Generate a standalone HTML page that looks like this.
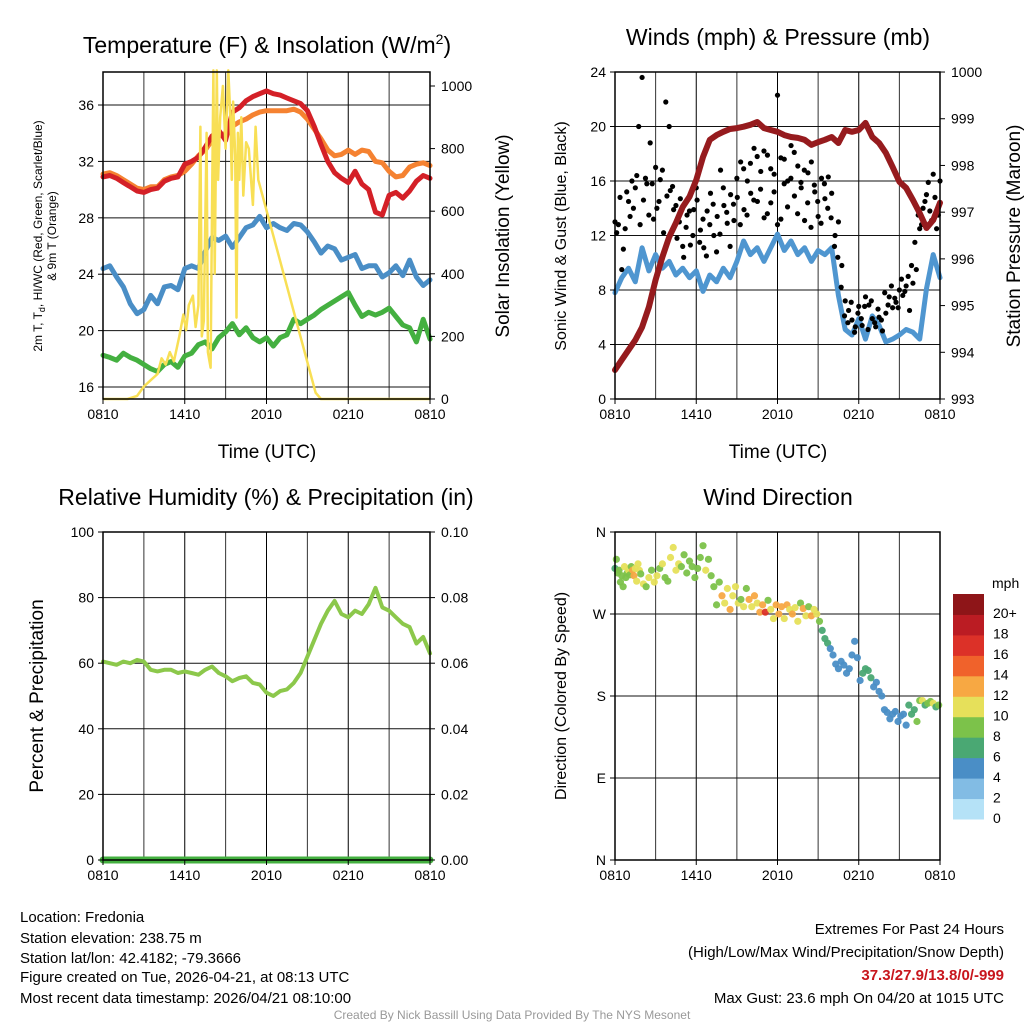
<!DOCTYPE html>
<html><head><meta charset="utf-8"><style>
html,body{margin:0;padding:0;background:#fff;}
svg{display:block;font-family:"Liberation Sans",sans-serif;}
</style></head><body>
<svg id="chart" width="1024" height="1024" viewBox="0 0 1024 1024" xmlns="http://www.w3.org/2000/svg">
<rect x="0" y="0" width="1024" height="1024" fill="#fff"/>
<g id="layer-grid"></g>
<g id="layer-marks"></g>
<g id="layer-frame"></g>
<g id="layer-text" fill="#000">
<text x="267" y="53" font-size="23" text-anchor="middle">Temperature (F) &amp; Insolation (W/m<tspan font-size="14" dy="-9">2</tspan><tspan dy="9">)</tspan></text>
<text x="778" y="45" font-size="23" text-anchor="middle">Winds (mph) &amp; Pressure (mb)</text>
<text x="266" y="505" font-size="23" text-anchor="middle">Relative Humidity (%) &amp; Precipitation (in)</text>
<text x="778" y="505" font-size="23" text-anchor="middle">Wind Direction</text>
<text x="267" y="458" font-size="19" text-anchor="middle">Time (UTC)</text>
<text x="778" y="458" font-size="19" text-anchor="middle">Time (UTC)</text>
<text transform="translate(42,236) rotate(-90)" font-size="12" text-anchor="middle">2m T, T<tspan font-size="9" dy="3">d</tspan><tspan dy="-3">, HI/WC (Red, Green, Scarlet/Blue)</tspan></text>
<text transform="translate(56,236) rotate(-90)" font-size="12" text-anchor="middle">&amp; 9m T (Orange)</text>
<text transform="translate(509,236) rotate(-90)" font-size="19" text-anchor="middle">Solar Insolation (Yellow)</text>
<text transform="translate(566,236) rotate(-90)" font-size="16" text-anchor="middle">Sonic Wind &amp; Gust (Blue, Black)</text>
<text transform="translate(1020,236) rotate(-90)" font-size="19" text-anchor="middle">Station Pressure (Maroon)</text>
<text transform="translate(43,696) rotate(-90)" font-size="19" text-anchor="middle">Percent &amp; Precipitation</text>
<text transform="translate(566,696) rotate(-90)" font-size="16" text-anchor="middle">Direction (Colored By Speed)</text>
<text x="992" y="588" font-size="14">mph</text>
<g font-size="15">
<text x="20" y="922">Location: Fredonia</text>
<text x="20" y="943">Station elevation: 238.75 m</text>
<text x="20" y="963">Station lat/lon: 42.4182; -79.3666</text>
<text x="20" y="982">Figure created on Tue, 2026-04-21, at 08:13 UTC</text>
<text x="20" y="1003">Most recent data timestamp: 2026/04/21 08:10:00</text>
</g>
<g font-size="15" text-anchor="end">
<text x="1004" y="934">Extremes For Past 24 Hours</text>
<text x="1004" y="957">(High/Low/Max Wind/Precipitation/Snow Depth)</text>
<text x="1004" y="980" fill="#c8161d" font-weight="bold">37.3/27.9/13.8/0/-999</text>
<text x="1004" y="1003">Max Gust: 23.6 mph On 04/20 at 1015 UTC</text>
</g>
<text x="512" y="1019" font-size="12" fill="#999" text-anchor="middle">Created By Nick Bassill Using Data Provided By The NYS Mesonet</text>
</g>
</svg>
<script>
// ---- data (half-hourly, starting 0810 UTC) ----
const timeTicks = ['0810','1410','2010','0210','0810'];
const tempRed = [30.9,31.0,30.8,30.5,30.2,29.9,29.8,30.0,30.1,30.6,30.8,30.9,31.8,32.0,32.3,33.0,33.8,34.2,33.5,35.5,35.8,36.3,36.6,36.8,37.0,36.8,36.7,36.5,36.3,36.1,35.6,34.5,33.2,32.0,31.2,30.8,30.5,31.3,30.4,30.0,28.4,28.2,29.6,29.8,29.4,29.9,30.6,31.0,30.8];
const tempOrange = [31.1,31.2,31.0,30.7,30.4,30.1,30.0,30.2,30.2,30.7,30.9,31.0,31.3,31.8,32.4,32.8,33.5,33.8,34.0,34.5,34.8,35.0,35.3,35.5,35.6,35.6,35.6,35.6,35.7,35.5,35.0,34.3,33.6,32.8,32.4,32.5,32.8,32.5,32.8,32.7,32.0,31.9,31.3,30.9,31.0,31.6,31.8,31.9,31.7];
const tempBlue = [24.4,24.6,23.8,23.1,21.9,21.2,21.5,22.5,21.9,23.1,23.2,22.9,24.4,24.6,24.4,25.6,26.6,26.4,26.7,25.9,26.6,27.3,27.5,28.1,27.3,27.6,27.3,27.1,27.6,27.5,27.0,26.3,25.5,26.0,25.8,25.0,25.2,25.4,24.4,24.6,24.6,23.8,24.1,24.6,23.9,25.0,23.8,23.2,23.6];
const tempGreen = [18.25,18.1,17.9,18.4,18.1,17.9,17.6,17.3,17.1,17.6,17.8,17.4,18.2,18.4,19.0,19.2,18.7,19.5,19.9,20.5,19.7,20.2,19.5,19.2,19.5,18.9,19.5,19.7,20.8,20.5,20.8,21.1,21.5,21.8,22.1,22.4,22.7,21.8,21.0,21.3,21.1,21.3,21.6,21.0,20.4,20.2,19.2,20.8,19.4];
const solarHours = [0,1.8,2.5,3.0,3.5,4.0,4.3,4.6,4.9,5.2,5.6,5.9,6.1,6.3,6.6,6.8,7.0,7.15,7.25,7.4,7.6,7.7,7.9,8.0,8.1,8.2,8.35,8.45,8.6,8.8,9.0,9.2,9.35,9.45,9.55,9.7,9.8,9.9,10.0,10.15,10.3,10.5,10.7,11.0,11.2,11.4,15.6,16.0,24];
const solarValues = [0,0,10,40,60,80,130,110,150,120,200,270,220,300,330,230,300,870,200,250,850,150,100,600,1050,400,1050,700,900,1000,800,1050,900,700,950,780,260,850,700,900,650,820,800,620,870,700,20,0,0];
const windSustained = [7.8,8.9,9.6,8.6,11.1,9.4,10.6,9.6,10.1,9.1,9.6,8.9,9.4,7.9,9.1,8.6,9.6,8.9,10.1,11.6,10.6,11.1,10.1,11.1,12.1,10.9,11.6,10.6,11.1,10.1,10.9,10.6,11.1,7.6,5.1,4.7,5.9,4.4,6.1,5.4,4.2,4.4,4.7,5.1,4.9,4.4,8.1,10.6,8.9];
const windGust = [13.0,12.8,9.5,12.5,14.5,16.0,15.5,20.0,23.6,16.2,13.5,15.8,17.0,14.5,16.8,21.8,20.0,15.6,14.2,13.0,11.2,12.6,13.8,12.0,15.5,11.5,13.2,10.5,12.8,14.3,10.8,12.1,15.5,13.7,11.2,14.3,16.2,12.8,16.9,13.5,17.3,14.6,17.8,15.4,18.2,13.6,16.9,15.2,22.3,13.2,17.6,16.0,18.6,14.9,17.1,15.5,13.1,16.6,17.4,15.2,13.4,16.2,14.7,16.3,15.1,12.0,13.0,9.8,7.2,6.5,5.8,5.3,6.8,5.4,7.5,6.9,5.9,5.3,6.0,5.0,6.3,7.5,6.7,7.1,8.0,7.6,8.3,6.5,8.5,9.5,12.5,14.0,15.0,13.8,16.5,12.5,16.0];
const windGustB = [12.2,14.8,11.0,15.2,13.4,14.0,16.4,12.8,14.6,15.8,18.8,13.2,14.0,16.1,12.2,14.9,15.3,13.9,11.8,14.7,10.4,13.5,11.3,13.9,14.6,12.4,11.1,13.8,15.1,12.0,13.4,16.8,14.2,12.9,15.0,13.1,14.8,17.4,13.9,16.0,15.1,18.4,14.5,16.7,13.3,17.9,14.4,16.5,12.8,17.7,15.8,14.1,16.2,18.1,13.6,15.9,16.8,14.4,12.6,15.7,14.5,12.9,15.8,14.0,13.3,11.2,10.4,8.2,6.1,5.6,7.1,4.9,6.3,5.9,6.8,5.1,7.2,5.6,6.6,5.8,7.8,6.9,8.3,7.4,6.7,8.8,7.9,9.0,9.8,11.5,13.5,12.8,14.5,15.9,13.1,14.8,13.5];
const pressure = [993.62,993.84,994.05,994.26,994.54,994.97,995.55,996.04,996.47,996.77,997.11,997.33,997.69,998.18,998.55,998.65,998.72,998.78,998.8,998.83,998.87,998.93,998.8,998.76,998.72,998.65,998.61,998.59,998.55,998.44,998.5,998.55,998.61,998.48,998.76,998.72,998.76,998.91,998.61,998.48,998.27,997.97,997.65,997.52,997.26,996.98,996.66,996.83,997.2];
const humidity = [60.5,60,59.5,60.5,60,61,60.5,58,57.5,58,58,57,57.5,57,56.5,58,59,57,56,54.5,55.5,56,54,53.5,51,50,51.5,52,54,57,62,67,72,76,79,75,74,76,75,78,83,77,76,74,72,71,66,68,63];
const precip = [0,0,0,0,0,0,0,0,0,0,0,0,0,0,0,0,0,0,0,0,0,0,0,0,0,0,0,0,0,0,0,0,0,0,0,0,0,0,0,0,0,0,0,0,0,0,0,0,0];
const dirHours = [0.0,0.1,0.2,0.3,0.4,0.5,0.6,0.7,0.8,0.9,1.0,1.1,1.2,1.3,1.4,1.5,1.6,1.7,1.8,1.9,2.1,2.3,2.5,2.7,2.9,3.1,3.3,3.5,3.7,3.9,4.1,4.3,4.5,4.7,4.9,5.1,5.3,5.5,5.7,5.9,6.1,6.3,6.5,6.7,6.9,7.1,7.3,7.5,7.7,7.9,8.1,8.3,8.5,8.7,8.9,9.1,9.3,9.5,9.7,9.9,10.1,10.3,10.5,10.7,10.9,11.1,11.3,11.5,11.7,11.9,12.1,12.3,12.5,12.7,12.9,13.1,13.3,13.5,13.7,13.9,14.1,14.3,14.5,14.7,14.9,15.1,15.3,15.5,15.7,15.9,16.1,16.3,16.5,16.7,16.9,17.1,17.3,17.5,17.7,17.9,18.1,18.3,18.5,18.7,18.9,19.1,19.3,19.5,19.7,19.9,20.1,20.3,20.5,20.7,20.9,21.1,21.3,21.5,21.7,21.9,22.1,22.3,22.5,22.7,22.9,23.1,23.3,23.5,23.7,23.9];
const dirValues = [320,330,315,318,305,312,300,322,310,315,318,313,322,318,312,320,306,325,318,314,303,300,310,318,305,312,320,325,310,306,332,343,318,325,322,335,315,328,322,310,320,332,345,318,330,312,300,280,305,290,282,298,275,290,300,282,286,278,298,286,278,290,282,272,280,272,285,275,265,280,270,278,265,280,275,270,277,262,282,276,268,278,268,275,270,262,252,243,238,232,225,215,210,218,214,205,210,225,240,222,197,205,210,208,200,190,195,185,180,165,162,155,160,163,152,158,160,148,170,160,165,152,175,175,170,172,174,172,168,170];
const dirSpeeds = [7,9,8,9,8,9,8,10,8,9,10,8,9,12,12,10,10,10,11,9,10,8,10,9,10,10,9,10,8,8,10,10,10,11,8,8,9,8,9,8,9,8,9,10,8,8,9,8,9,12,10,10,12,10,10,11,9,10,9,12,10,12,10,12,13,17,8,10,11,12,12,13,10,12,10,12,10,10,9,12,11,8,13,10,10,8,7,6,6,4,4,5,4,4,5,4,4,4,4,4,4,6,6,7,6,4,4,4,4,4,4,4,4,4,4,4,4,4,6,6,6,8,9,10,7,9,8,10,7,8];
const speedBinLabels = ['0','2','4','6','8','10','12','14','16','18','20+'];
const speedBinColors = ['#b5e2f7','#82bce4','#4a8ec6','#4aa873','#7cc24a','#e6e05a','#f7a843','#f0622b','#dc3128','#bb1c23','#8e1518'];
const tempTicks = [16,20,24,28,32,36];
const solarTicks = [0,200,400,600,800,1000];
const windTicks = [0,4,8,12,16,20,24];
const pressureTicks = [993,994,995,996,997,998,999,1000];
const rhTicks = [0,20,40,60,80,100];
const precipTicks = ['0.00','0.02','0.04','0.06','0.08','0.10'];
const dirTicks = [0,90,180,270,360];
const dirTickLabels = ['N','E','S','W','N'];

// ---- geometry / scales ----
const NS = 'http://www.w3.org/2000/svg';
const P1 = {L:103,R:430,T:72,B:399}, P2 = {L:615,R:940,T:72,B:399}, P3 = {L:103,R:430,T:532,B:860}, P4 = {L:615,R:940,T:532,B:860};
function xH(p,h){return p.L + h/24*(p.R-p.L);}
function xI(p,i,n){return xH(p, i*24/(n-1));}
function yTemp(v){return 399-(v-15.15)*14.1;}
function ySolar(w){return 399-w*0.313;}
function yWind(v){return 399-v*13.625;}
function yPres(p){return 399-(p-993)*46.71;}
function yRH(v){return 860-v*3.28;}
function yPrecip(v){return 860-v*3280;}
function yDir(d){return 860-d/360*328;}
const gGrid = document.getElementById('layer-grid');
const gMarks = document.getElementById('layer-marks');
const gFrame = document.getElementById('layer-frame');
const gText = document.getElementById('layer-text');
function mk(parent, tag, attrs){const e=document.createElementNS(NS,tag);for(const k in attrs)e.setAttribute(k,attrs[k]);parent.appendChild(e);return e;}

function panelGrid(p, yVals, yFn, nm){
  for(let k=0;k<=8;k++){
    const x=p.L+k*(p.R-p.L)/8;
    const ln=mk(gGrid,'line',{x1:x,x2:x,y1:p.T,y2:p.B,stroke:k%2?'#333':'#000','stroke-width':1});
    
    
  }
  yVals.forEach(v=>{
    const y=yFn(v);
    if(y<p.T-1||y>p.B+1)return;
    const ln=mk(gGrid,'line',{x1:p.L,x2:p.R,y1:y,y2:y,stroke:'#111','stroke-width':1});
    
    
  });
  const fr=mk(gFrame,'rect',{x:p.L,y:p.T,width:p.R-p.L,height:p.B-p.T,fill:'none',stroke:'#000','stroke-width':1.5});
  
  
  timeTicks.forEach((t,i)=>{
    const tx=mk(gText,'text',{x:p.L+i*(p.R-p.L)/4,y:p.B+20,'font-size':14,'text-anchor':'middle'});
    tx.textContent=t;
    
    
    const tk=mk(gFrame,'line',{x1:p.L+i*(p.R-p.L)/4,x2:p.L+i*(p.R-p.L)/4,y1:p.B,y2:p.B+5,stroke:'#000'});
    
    
  });
}
function yLabels(p, vals, labels, yFn, side, nm){
  vals.forEach((v,i)=>{
    const y=yFn(v);
    const tx=mk(gText,'text',{x:side==='L'?p.L-9:p.R+11,y:y+5,'font-size':14,'text-anchor':side==='L'?'end':'start'});
    tx.textContent=labels[i];
    
    
    const tk=mk(gFrame,'line',{x1:side==='L'?p.L-5:p.R,x2:side==='L'?p.L:p.R+5,y1:y,y2:y,stroke:'#000'});
    
    
  });
}
function series(p, vals, yFn, color, w, nm){
  const pts=vals.map((v,i)=>xI(p,i,vals.length).toFixed(1)+','+yFn(v).toFixed(1)).join(' ');
  const pl=mk(gMarks,'polyline',{points:pts,fill:'none',stroke:color,'stroke-width':w,'stroke-linejoin':'round','stroke-linecap':'round'});
  
  
}

// panel 1
panelGrid(P1, tempTicks, yTemp, 'temp');
yLabels(P1, tempTicks, tempTicks.map(String), yTemp, 'L', 'temp-y');
yLabels(P1, solarTicks, solarTicks.map(String), ySolar, 'R', 'solar-y');
series(P1, tempBlue, yTemp, '#4a8ec6', 5, 'heat-index-line');
series(P1, tempGreen, yTemp, '#44b040', 5, 'dewpoint-line');
series(P1, tempOrange, yTemp, '#f58231', 5, 'temp-9m-line');
series(P1, tempRed, yTemp, '#d42027', 5, 'temp-2m-line');
{
  const pts=solarHours.map((h,i)=>xH(P1,h).toFixed(1)+','+ySolar(solarValues[i]).toFixed(1)).join(' ');
  const pl=mk(gMarks,'polyline',{points:pts,fill:'none',stroke:'#f8df55','stroke-width':2.5,'stroke-linejoin':'round'});
  
  
}

// panel 2
panelGrid(P2, windTicks, yWind, 'wind');
yLabels(P2, windTicks, windTicks.map(String), yWind, 'L', 'wind-y');
yLabels(P2, pressureTicks, pressureTicks.map(String), yPres, 'R', 'pressure-y');
series(P2, windSustained, yWind, '#4f96d0', 5, 'sustained-wind-line');
windGust.forEach((v,i)=>{
  const c=mk(gMarks,'circle',{cx:xI(P2,i,windGust.length),cy:yWind(v),r:2.6,fill:'#000'});
  
  
});
windGustB.forEach((v,i)=>{
  const c=mk(gMarks,'circle',{cx:xH(P2,(i+0.5)*24/(windGustB.length)),cy:yWind(v),r:2.6,fill:'#000'});
  
  
});
series(P2, pressure, yPres, '#961b1e', 6, 'pressure-line');

// panel 3
panelGrid(P3, rhTicks, yRH, 'humidity');
yLabels(P3, rhTicks, rhTicks.map(String), yRH, 'L', 'humidity-y');
yLabels(P3, precipTicks.map(Number), precipTicks, yPrecip, 'R', 'precip-y');
series(P3, humidity, yRH, '#8cc84b', 4, 'humidity-line');
series(P3, precip, yPrecip, '#44b040', 7, 'precipitation-line');

// panel 4
panelGrid(P4, dirTicks, yDir, 'direction');
yLabels(P4, dirTicks, dirTickLabels, yDir, 'L', 'direction-y');
dirHours.forEach((h,i)=>{
  const bin=Math.min(10,Math.floor(dirSpeeds[i]/2));
  const c=mk(gMarks,'circle',{cx:xH(P4,h),cy:yDir(dirValues[i]),r:3.6,fill:speedBinColors[bin],opacity:0.95});
  
  
});
// colorbar
const cbTop=594, cbBot=819, cbH=(cbBot-cbTop)/speedBinColors.length;
speedBinColors.forEach((col,i)=>{
  const y=cbBot-(i+1)*cbH;
  const r=mk(gMarks,'rect',{x:953,y:y,width:31,height:cbH+0.5,fill:col});
  
  
  const t=mk(gText,'text',{x:993,y:y+cbH/2+14,'font-size':14});
  t.textContent=speedBinLabels[i];
  
  
});
</script>
</body></html>
